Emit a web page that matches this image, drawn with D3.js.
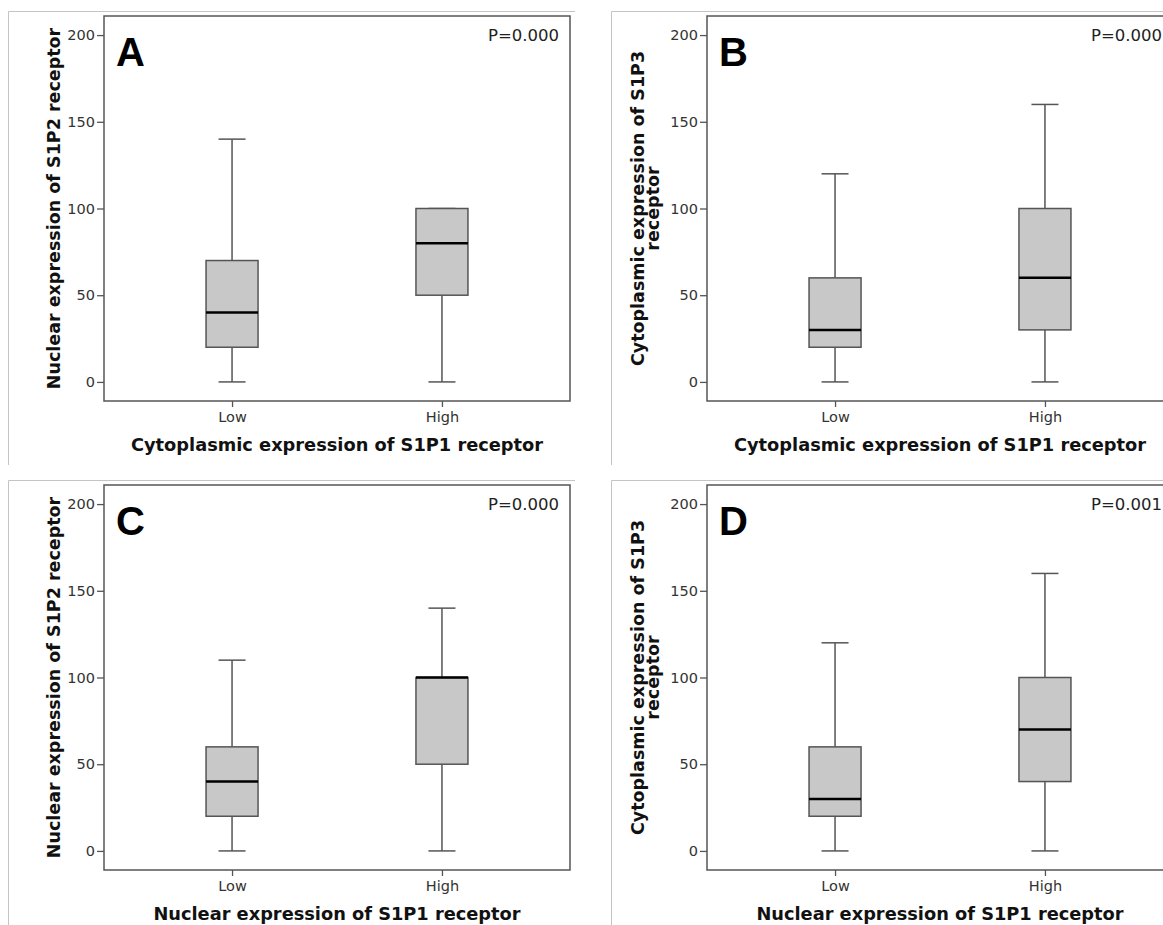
<!DOCTYPE html>
<html>
<head>
<meta charset="utf-8">
<script src="https://cdn.jsdelivr.net/npm/d3@7"></script>
<style>
  html, body { margin: 0; padding: 0; background: #fff; }
  svg { display: block; }
</style>
</head>
<body>
<svg id="chart" width="1163" height="925"></svg>
<script>
// Panel labels and test results
const panelLetters = ["A", "B", "C", "D"];
const pLabels = ["P=0.000", "P=0.000", "P=0.000", "P=0.001"];

// Axis titles (y titles may wrap onto two lines)
const xTitles = [
  "Cytoplasmic expression of S1P1 receptor",
  "Cytoplasmic expression of S1P1 receptor",
  "Nuclear expression of S1P1 receptor",
  "Nuclear expression of S1P1 receptor"
];
const yTitles = [
  ["Nuclear expression of S1P2 receptor"],
  ["Cytoplasmic expression of S1P3", "receptor"],
  ["Nuclear expression of S1P2 receptor"],
  ["Cytoplasmic expression of S1P3", "receptor"]
];

// Groups on the x axis
const groups = ["Low", "High"];

// Five-number summaries per panel: [min, Q1, median, Q3, max]
const lowStats = [
  [0, 20, 40, 70, 140],
  [0, 20, 30, 60, 120],
  [0, 20, 40, 60, 110],
  [0, 20, 30, 60, 120]
];
const highStats = [
  [0, 50, 80, 100, 100],
  [0, 30, 60, 100, 160],
  [0, 50, 100, 100, 140],
  [0, 40, 70, 100, 160]
];

const yTicks = [0, 50, 100, 150, 200];
const yDomain = [-11, 211];

// ---- layout ----
const svg = d3.select("#chart");
const W = 1163, H = 925;
svg.append("rect").attr("width", W).attr("height", H).attr("fill", "#fff");

const panelOffsets = [[0, 0], [603, 0], [0, 469], [603, 469]];
const plot = { left: 104, top: 16, right: 570, bottom: 401 };
const frame = { left: 8.5, top: 11.5, right: 575, bottom: 465 };

const axisColor = "#555";
const textColor = "#333";
const titleColor = "#111";
const sansFont = "'DejaVu Sans', 'Noto Sans', sans-serif";

const y = d3.scaleLinear().domain(yDomain).range([plot.bottom, plot.top]);
const x = d3.scalePoint().domain(groups).range([plot.left, plot.right]).padding(0.61);
const boxW = 52, capW = 27;

panelLetters.forEach((letter, i) => {
  const [ox, oy] = panelOffsets[i];
  const g = svg.append("g").attr("transform", `translate(${ox},${oy})`);

  // light outer frame (top and left edges)
  const fb = i >= 2 ? H - oy : frame.bottom;
  g.append("path")
    .attr("d", `M${frame.left},${fb} V${frame.top} H${frame.right}`)
    .attr("fill", "none")
    .attr("stroke", "#c4c4c4")
    .attr("stroke-width", 1);

  // plot frame
  g.append("rect")
    .attr("x", plot.left).attr("y", plot.top)
    .attr("width", plot.right - plot.left)
    .attr("height", plot.bottom - plot.top)
    .attr("fill", "none")
    .attr("stroke", axisColor)
    .attr("stroke-width", 1.5);

  // y axis
  const yAxis = g.append("g")
    .attr("transform", `translate(${plot.left},0)`)
    .call(d3.axisLeft(y).tickValues(yTicks).tickSize(7).tickPadding(2));
  yAxis.select(".domain").remove();
  yAxis.selectAll("line").attr("stroke", axisColor).attr("stroke-width", 1.3);
  yAxis.selectAll("text")
    .attr("fill", textColor)
    .style("font-family", sansFont)
    .style("font-size", "14.5px");

  // x axis
  const xAxis = g.append("g")
    .attr("transform", `translate(0,${plot.bottom})`)
    .call(d3.axisBottom(x).tickSize(6).tickPadding(5));
  xAxis.select(".domain").remove();
  xAxis.selectAll("line").attr("stroke", axisColor).attr("stroke-width", 1.3);
  xAxis.selectAll("text")
    .attr("fill", textColor)
    .style("font-family", sansFont)
    .style("font-size", "14.5px");

  // boxes
  const stats = [lowStats[i], highStats[i]];
  stats.forEach((s, k) => {
    const cx = x(groups[k]);
    const [mn, q1, md, q3, mx] = s;
    const bg = g.append("g");
    // whiskers
    bg.append("line")
      .attr("x1", cx).attr("x2", cx)
      .attr("y1", y(q3)).attr("y2", y(mx))
      .attr("stroke", axisColor).attr("stroke-width", 1.5);
    bg.append("line")
      .attr("x1", cx).attr("x2", cx)
      .attr("y1", y(q1)).attr("y2", y(mn))
      .attr("stroke", axisColor).attr("stroke-width", 1.5);
    // caps
    [mn, mx].forEach(v => {
      bg.append("line")
        .attr("x1", cx - capW / 2).attr("x2", cx + capW / 2)
        .attr("y1", y(v)).attr("y2", y(v))
        .attr("stroke", axisColor).attr("stroke-width", 1.5);
    });
    // box
    bg.append("rect")
      .attr("x", cx - boxW / 2)
      .attr("y", y(q3))
      .attr("width", boxW)
      .attr("height", y(q1) - y(q3))
      .attr("fill", "#c8c8c8")
      .attr("stroke", axisColor)
      .attr("stroke-width", 1.5);
    // median
    bg.append("line")
      .attr("x1", cx - boxW / 2).attr("x2", cx + boxW / 2)
      .attr("y1", y(md)).attr("y2", y(md))
      .attr("stroke", "#000").attr("stroke-width", 2.5);
  });

  // panel letter
  g.append("text")
    .attr("x", plot.left + 12)
    .attr("y", plot.top + 50)
    .attr("fill", "#000")
    .style("font-family", "'Liberation Sans', Arial, sans-serif")
    .style("font-weight", "bold")
    .style("font-size", "40px")
    .text(letter);

  // p-value
  g.append("text")
    .attr("x", plot.right - 11)
    .attr("y", plot.top + 25)
    .attr("text-anchor", "end")
    .attr("fill", "#222")
    .style("font-family", sansFont)
    .style("font-size", "16.5px")
    .text(pLabels[i]);

  // x title
  g.append("text")
    .attr("x", (plot.left + plot.right) / 2)
    .attr("y", 451)
    .attr("text-anchor", "middle")
    .attr("fill", titleColor)
    .style("font-family", sansFont)
    .style("font-weight", "bold")
    .style("font-size", "17.8px")
    .text(xTitles[i]);

  // y title
  const lines = yTitles[i];
  const baseX = lines.length === 1 ? [60] : [41, 56];
  lines.forEach((t, j) => {
    g.append("text")
      .attr("transform", `translate(${baseX[j]},${(plot.top + plot.bottom) / 2}) rotate(-90)`)
      .attr("text-anchor", "middle")
      .attr("fill", titleColor)
      .style("font-family", sansFont)
      .style("font-weight", "bold")
      .style("font-size", "17.5px")
      .text(t);
  });
});
</script>
</body>
</html>
